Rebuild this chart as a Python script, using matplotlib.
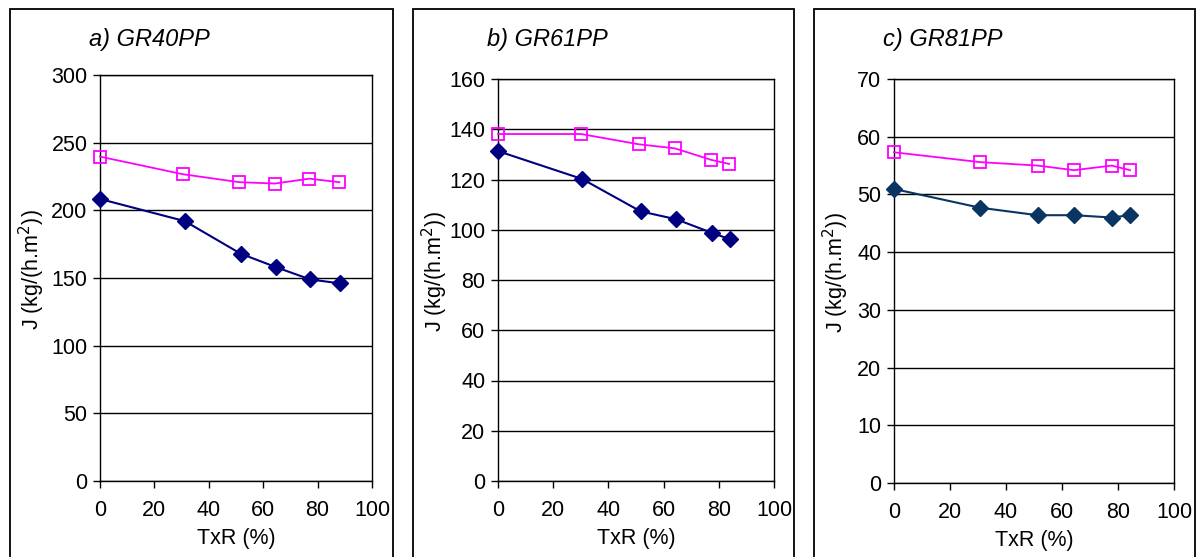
import numpy as np
import matplotlib
matplotlib.use('Agg')
import matplotlib.pyplot as plt
from matplotlib.patches import Rectangle

plt.rcParams['font.family'] = ['Liberation Sans', 'DejaVu Sans']
plt.rcParams['font.size'] = 15

# panel data
titles = ['a) GR40PP', 'b) GR61PP', 'c) GR81PP']

a_x_d = [0, 31.2, 51.7, 64.7, 77.2, 88.2]
a_y_d = [208.4, 192, 168, 158, 149, 146]
a_x_s = [0, 30.4, 51.2, 64.3, 77, 88]
a_y_s = [239.7, 226.7, 220.8, 219.8, 223.4, 220.8]

b_x_d = [0, 30.5, 51.7, 64.5, 77.4, 84.1]
b_y_d = [131.3, 120.2, 107.3, 104.2, 98.8, 96.2]
b_x_s = [0, 30.1, 51.1, 64.1, 77.3, 83.7]
b_y_s = [138.1, 138.1, 134, 132.4, 127.8, 126.2]

c_x_d = [0, 30.7, 51.3, 64.3, 77.7, 84.3]
c_y_d = [50.95, 47.7, 46.4, 46.4, 46.0, 46.4]
c_x_s = [0, 30.7, 51.3, 64.3, 77.7, 84.3]
c_y_s = [57.3, 55.6, 55.0, 54.2, 55.0, 54.2]

y_max = [300, 160, 70]
y_step = [50, 20, 10]
diamond_col = ['#000080', '#000080', '#0a3563']

W, H = 1198, 557
fig = plt.figure(figsize=(W / 100, H / 100), dpi=100)

# plot areas in pixels: left, right, top, bottom
areas = [(100, 372, 75, 481), (498, 774, 79, 481), (894, 1174, 79, 483)]
boxes = [(10, 393), (413, 794), (814, 1195)]
data = [(a_x_d, a_y_d, a_x_s, a_y_s), (b_x_d, b_y_d, b_x_s, b_y_s),
        (c_x_d, c_y_d, c_x_s, c_y_s)]

for i in range(3):
    bl, br = boxes[i]
    fig.patches.append(Rectangle((bl / W, -0.1), (br - bl) / W, 1.1 - 9 / H,
                                 transform=fig.transFigure, fill=False,
                                 edgecolor='black', linewidth=1.3))
    l, r, t, b = areas[i]
    ax = fig.add_axes([l / W, 1 - b / H, (r - l) / W, (b - t) / H])
    xd, yd, xs, ys = data[i]
    ax.plot(xs, ys, color='#ff00ff', marker='s', markersize=9, mfc='none',
            mec='#ff00ff', mew=1.3, linewidth=1.3, clip_on=False, zorder=3)
    ax.plot(xd, yd, color=diamond_col[i], marker='D', markersize=8.5,
            linewidth=1.5, clip_on=False, zorder=4)
    ax.set_xlim(0, 100)
    ax.set_ylim(0, y_max[i])
    ax.set_xticks(np.arange(0, 101, 20))
    ax.set_yticks(np.arange(0, y_max[i] + 1, y_step[i]))
    ax.yaxis.grid(True, color='black', linewidth=1)
    ax.set_axisbelow(True)
    ax.tick_params(direction='out', length=5, width=1, labelsize=15.5)
    ax.tick_params(axis='x', pad=9)
    ax.tick_params(axis='y', pad=4)
    for s in ax.spines.values():
        s.set_linewidth(1)
    ax.set_xlabel('TxR (%)', fontsize=15.5, labelpad=5)
    ax.set_ylabel('J (kg/(h.m$^2$))', fontsize=15.5)
    ax.yaxis.set_label_coords(-(l - bl - 37) / (r - l), 0.52)
    fig.text((l - 11) / W, 1 - 46 / H, titles[i], fontsize=17,
             style='italic', ha='left', va='baseline')

fig.savefig('out.png', dpi=100)
